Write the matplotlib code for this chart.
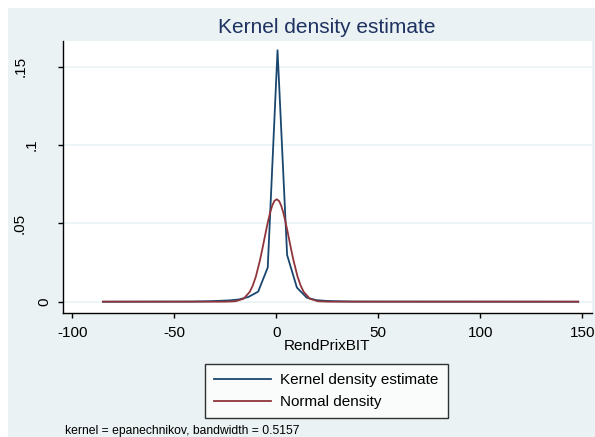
import matplotlib
matplotlib.use("Agg")
import matplotlib.pyplot as plt
import matplotlib.transforms as mtransforms
from matplotlib.patches import Rectangle

plt.rcParams['font.family'] = ['Liberation Sans', 'DejaVu Sans']
plt.rcParams['axes.unicode_minus'] = False

# kernel density estimate
kde_x = [-85.0, -42.2, -32.7, -23.2, -18.4, -13.7, -8.9, -4.2, 0.6, 5.3,
         10.1, 14.9, 19.6, 24.4, 29.2, 38.6, 148.0]
kde_y = [0.0, 0.0001, 0.0003, 0.0008, 0.0014, 0.0030, 0.0064, 0.0218, 0.1605, 0.0298,
         0.0090, 0.0026, 0.0010, 0.0005, 0.0003, 0.0001, 0.0]

# normal density overlay
norm_x = [-85.0, -30.0, -25.0, -20.0, -16.0, -13.0, -11.5, -10.0, -8.0, -7.0, -6.0,
          -5.0, -4.0, -3.0, -2.0, -1.0, 0.2, 1.4, 2.4, 3.4, 4.4, 5.4, 6.4, 7.4,
          8.4, 10.4, 11.9, 13.4, 16.4, 20.4, 25.4, 30.4, 148.0]
norm_y = [0.0, 0.0, 0.00001, 0.00027, 0.0019, 0.0063, 0.0104, 0.0161, 0.0265, 0.0326, 0.0390,
          0.0455, 0.0516, 0.0570, 0.0613, 0.0642, 0.0654, 0.0642, 0.0613, 0.0570, 0.0516, 0.0455, 0.0390, 0.0326,
          0.0265, 0.0161, 0.0104, 0.0063, 0.0019, 0.00027, 0.00001, 0.0, 0.0]

x_ticks = [-100, -50, 0, 50, 100, 150]
y_ticks = [0, 0.05, 0.1, 0.15]
y_tick_labels = ["0", ".05", ".1", ".15"]
legend_labels = ["Kernel density estimate", "Normal density"]

W, H = 595, 437
BG = "#EAF2F3"
BLUE = "#1A476F"
RED = "#90353B"

fig = plt.figure(figsize=(W / 100, H / 100), dpi=100, facecolor="white")
fig.patches.append(Rectangle((8 / W, 0), 1 - 8 / W, 1 - 8 / H, transform=fig.transFigure,
                             facecolor=BG, edgecolor="none", zorder=-10))

ax = fig.add_axes([62.7 / W, 1 - 312.5 / H, (591.7 - 62.7) / W, (312.5 - 41) / H])
ax.set_facecolor("white")

ax.plot(kde_x, kde_y, color=BLUE, lw=1.3, label=legend_labels[0], zorder=3)
ax.plot(norm_x, norm_y, color=RED, lw=1.3, label=legend_labels[1], zorder=3)

ax.set_xlim(-104.7, 154.6)
ax.set_ylim(-0.0069, 0.1664)

for s in ["top", "right"]:
    ax.spines[s].set_visible(False)
for s in ["left", "bottom"]:
    ax.spines[s].set_linewidth(1.0)
    ax.spines[s].set_color("black")

ax.set_xticks(x_ticks)
ax.set_xticklabels([str(v) for v in x_ticks])
ax.set_yticks(y_ticks)
ax.set_yticklabels([])
ax.tick_params(axis="both", direction="out", length=3.6, width=1.0, color="black",
               labelsize=11, labelcolor="black")
ax.tick_params(axis="x", pad=6)
ax.yaxis.grid(True, color=BG, lw=1.2, zorder=0)
ax.set_axisbelow(True)

# rotated y labels, placed like the Stata output
trans = mtransforms.blended_transform_factory(fig.transFigure, ax.transData)
label_x = {"0": 44.5, ".05": 20.0, ".1": 32.0, ".15": 20.5}
for v, lab in zip(y_ticks, y_tick_labels):
    ax.text(label_x[lab] / W, v, lab, transform=trans, rotation=90, fontsize=11,
            ha="center", va="center", clip_on=False)

ax.set_xlabel("RendPrixBIT", fontsize=11)
ax.xaxis.set_label_coords(0.5, (437 - 339.5 - 124.5) / 271.5)

fig.text(327 / W, 1 - 33.3 / H, "Kernel density estimate", fontsize=15,
         color="#1E3160", ha="center", va="baseline")

leg = ax.legend(loc="upper left", bbox_to_anchor=(205 / W, 1 - 364 / H),
                bbox_transform=fig.transFigure, fontsize=11, frameon=True,
                fancybox=False, borderaxespad=0, handlelength=3.77,
                handletextpad=0.59, borderpad=0.58, labelspacing=0.53)
leg.get_frame().set_edgecolor("black")
leg.get_frame().set_linewidth(1.0)
leg.get_frame().set_facecolor("white")

fig.text(65 / W, 1 - 430.7 / H, "kernel = epanechnikov, bandwidth = 0.5157",
         fontsize=8.7, ha="left", va="center")

fig.savefig("out.png", dpi=100)
